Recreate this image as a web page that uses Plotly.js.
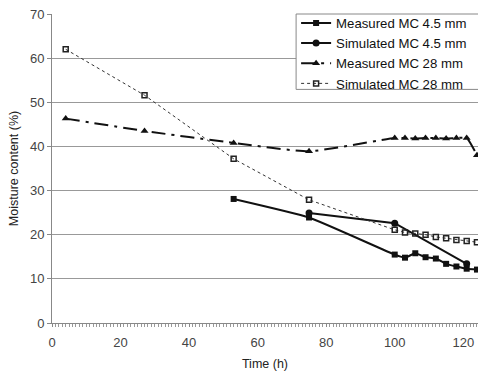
<!DOCTYPE html>
<html>
<head>
<meta charset="utf-8">
<script src="https://cdn.plot.ly/plotly-3.0.1.min.js"></script>
<style>html,body{margin:0;padding:0;background:#fff;}#chart{width:478px;height:371px;}</style>
</head>
<body>
<div id="chart"></div>
<script>
// Measured MC 4.5 mm
const measured45Time = [53, 75, 100, 103, 106, 109, 112, 115, 118, 121, 124];
const measured45MC   = [28.1, 23.9, 15.5, 14.8, 15.8, 14.9, 14.6, 13.4, 12.8, 12.3, 12.1];
// Simulated MC 4.5 mm
const simulated45Time = [75, 100, 121];
const simulated45MC   = [24.9, 22.6, 13.4];
// Measured MC 28 mm
const measured28Time = [4, 27, 53, 75, 100, 103, 106, 109, 112, 115, 118, 121, 124];
const measured28MC   = [46.3, 43.5, 40.8, 38.9, 41.9, 41.9, 41.8, 41.9, 41.9, 41.8, 41.9, 41.9, 38.0];
// Simulated MC 28 mm
const simulated28Time = [4, 27, 53, 75, 100, 103, 106, 109, 112, 115, 118, 121, 124];
const simulated28MC   = [62.0, 51.6, 37.2, 27.9, 21.1, 20.5, 20.3, 20.0, 19.5, 19.2, 18.8, 18.6, 18.3];

const seriesNames = ['Measured MC 4.5 mm', 'Simulated MC 4.5 mm', 'Measured MC 28 mm', 'Simulated MC 28 mm'];
const xTickVals = [0, 20, 40, 60, 80, 100, 120];
const yTickVals = [0, 10, 20, 30, 40, 50, 60, 70];

const traces = [
  {x: measured45Time, y: measured45MC, name: seriesNames[0], mode: 'lines+markers', type: 'scatter',
   line: {color: '#111', width: 2, shape: 'spline', smoothing: 0.4},
   marker: {symbol: 'square', size: 6, color: '#111'}},
  {x: simulated45Time, y: simulated45MC, name: seriesNames[1], mode: 'lines+markers', type: 'scatter',
   line: {color: '#111', width: 2},
   marker: {symbol: 'circle', size: 7, color: '#111'}},
  {x: measured28Time, y: measured28MC, name: seriesNames[2], mode: 'lines+markers', type: 'scatter',
   line: {color: '#111', width: 2, dash: '14px,6px,3px,6px', shape: 'spline', smoothing: 0.5},
   marker: {symbol: 'triangle-up', size: 7, color: '#111'}},
  {x: simulated28Time, y: simulated28MC, name: seriesNames[3], mode: 'lines+markers', type: 'scatter',
   line: {color: '#333', width: 1, dash: 'dot'},
   marker: {symbol: 'square-open', size: 5, color: '#222', line: {width: 1.5, color: '#222'}}}
];

const layout = {
  width: 478, height: 371,
  margin: {l: 52, r: 0, t: 13.5, b: 47.5},
  paper_bgcolor: '#fff', plot_bgcolor: '#fff',
  font: {family: 'Liberation Sans, Arial, sans-serif', size: 13, color: '#333'},
  showlegend: true,
  legend: {x: 0.573, y: 1.02, xanchor: 'left', yanchor: 'top',
           bgcolor: 'rgba(0,0,0,0)', borderwidth: 0,
           font: {size: 13.2, color: '#111'}, itemwidth: 30, tracegroupgap: 0},
  shapes: [{type: 'rect', xref: 'paper', yref: 'paper', x0: 0.573, x1: 1.05, y0: 0.756, y1: 1.0,
            line: {color: '#888', width: 1}, fillcolor: '#fff', layer: 'above'}],
  xaxis: {range: [0, 124.3], tickvals: xTickVals, ticks: 'outside', ticklen: 3, tickcolor: '#888',
          showgrid: false, zeroline: false, showline: true, linecolor: '#888', linewidth: 1,
          minor: {dtick: 1, ticks: 'outside', ticklen: 3, tickcolor: '#999', showgrid: false},
          ticklabelstandoff: 4,
          title: {text: 'Time (h)', font: {size: 12.5, color: '#222'}, standoff: 10},
          tickfont: {size: 13, color: '#444'}},
  yaxis: {range: [0, 70], tickvals: yTickVals, ticks: 'outside', ticklen: 4, tickcolor: '#888',
          showgrid: true, gridcolor: '#999', gridwidth: 1, zeroline: false,
          showline: true, linecolor: '#888', linewidth: 1,
          title: {text: 'Moisture content (%)', font: {size: 12.5, color: '#222'}, standoff: 8},
          tickfont: {size: 13, color: '#444'}}
};

Plotly.newPlot('chart', traces, layout, {displayModeBar: false, staticPlot: true});
</script>
</body>
</html>
